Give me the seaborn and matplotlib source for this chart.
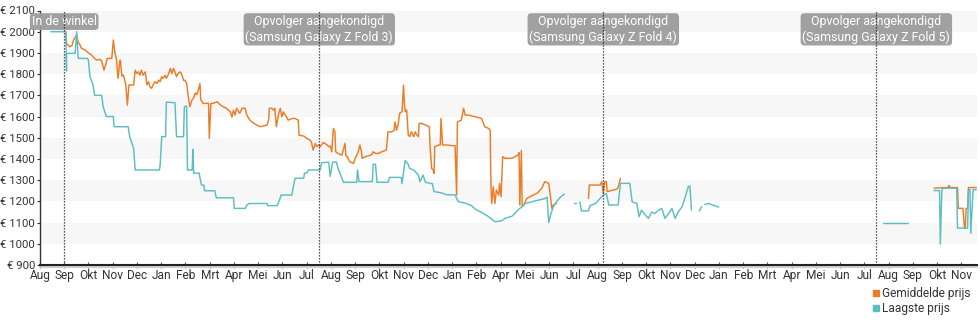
import numpy as np
import pandas as pd
import matplotlib
matplotlib.use("Agg")
import matplotlib.pyplot as plt
import matplotlib.transforms as mtransforms
from matplotlib.lines import Line2D
import seaborn as sns

# Price history of the Samsung Galaxy Z Fold 2 (days since start date, price in euro).
# A NaN price marks a gap where no price was recorded.
start = pd.Timestamp("2020-08-18")

dagen_laagste = [
    14, 33, 34, 34, 45, 47, 49, 61, 62, 64, 68, 70, 79, 81, 85, 94, 95, 113, 115, 120,
    122, 153, 154, 156, 161, 162, 173, 175, 184, 185, 188, 189, 195, 196, 197, 204, 205,
    207, 210, 211, 224, 226, 248, 249, 263, 265, 268, 291, 292, 304, 307, 309, 323, 324,
    327, 338, 339, 342, 344, 359, 361, 370, 372, 375, 380, 382, 389, 406, 407, 409, 426,
    427, 430, 432, 446, 448, 463, 464, 468, 472, 474, 479, 485, 487, 491, 494, 503, 505,
    515, 521, 532, 536, 545, 553, 558, 566, 575, 583, 592, 596, 605, 609, 613, 622, 630,
    639, 647, 650, 652, 655, 658, 662, 667, 672, 677, 684, 687, 689, 692, 694, 703, 705,
    712, 718, 722, 726, 729, 741, 744, 756, 759, 765, 768, 771, 776, 780, 784, 788, 793,
    797, 801, 806, 810, 814, 818, 823, 827, 831, 833, 835, 840, 845, 848, 850, 852, 857,
    870, 975, 1080, 1112, 1128, 1146, 1153, 1154, 1156, 1157, 1175, 1176, 1189, 1190,
    1192, 1193, 1196, 1200,
]
prijs_laagste = [
    2000, 2000, 1815, 1898, 1898, 2000, 1874, 1874, 1866, 1788, 1749, 1700, 1700, 1646,
    1600, 1600, 1552, 1552, 1505, 1450, 1348, 1348, 1371, 1505, 1505, 1668, 1665, 1505,
    1505, 1646, 1650, 1348, 1348, 1445, 1333, 1333, 1313, 1277, 1277, 1250, 1250, 1217,
    1217, 1167, 1167, 1182, 1190, 1190, 1180, 1180, 1206, 1230, 1230, 1257, 1309, 1309,
    1333, 1333, 1348, 1348, 1382, 1385, 1318, 1385, 1385, 1356, 1290, 1290, 1348, 1293,
    1293, 1375, 1375, 1290, 1290, 1313, 1313, 1283, 1392, 1375, 1355, 1348, 1324, 1293,
    1324, 1290, 1283, 1246, 1240, 1231, 1231, 1199, 1192, 1180, 1163, 1148, 1128, 1104,
    1108, 1120, 1130, 1145, 1160, 1190, 1198, 1206, 1213, 1220, 1100, 1143, 1175, 1198,
    1220, 1234, np.nan, 1190, 1190, np.nan, 1198, 1155, 1155, 1180, 1190, 1214, 1230,
    1237, 1183, 1183, 1285, 1285, 1198, 1190, 1128, 1159, 1135, 1120, 1150, 1143, 1159,
    1167, 1120, 1143, 1167, 1120, 1150, 1175, 1220, 1270, 1273, 1159, np.nan, 1155, 1175,
    np.nan, 1185, 1190, 1173, np.nan, 1100, 1100, np.nan, 1251, 1251, 998, 1255, 1262,
    1262, 1074, 1074, 1251, 1255, 1050, 1255, 1255,
]

dagen_gemiddeld = [
    33, 34, 38, 41, 43, 47, 49, 51, 53, 58, 62, 66, 70, 73, 77, 79, 82, 85, 86, 92,
    94, 96, 98, 100, 102, 103, 105, 107, 110, 112, 114, 120, 122, 124, 126, 128, 130, 132,
    135, 137, 139, 141, 143, 145, 147, 150, 152, 154, 156, 158, 160, 162, 165, 167, 169,
    171, 173, 175, 177, 180, 182, 184, 186, 188, 190, 192, 195, 197, 199, 201, 203, 205,
    206, 209, 216, 217, 219, 222, 227, 231, 235, 239, 244, 246, 248, 250, 252, 256, 259,
    263, 265, 269, 274, 278, 282, 286, 291, 293, 294, 297, 299, 301, 303, 306, 308, 310,
    312, 314, 316, 318, 323, 327, 331, 332, 338, 342, 346, 348, 350, 353, 355, 357, 359,
    363, 365, 368, 370, 372, 374, 376, 378, 379, 382, 387, 391, 392, 395, 397, 402, 404,
    408, 410, 412, 413, 417, 425, 427, 430, 434, 438, 444, 446, 451, 454, 455, 457, 459,
    461, 464, 466, 467, 468, 470, 472, 474, 476, 479, 481, 483, 485, 486, 489, 494, 499,
    500, 502, 504, 505, 506, 511, 513, 514, 516, 519, 532, 534, 535, 540, 543, 545, 549,
    558, 566, 570, 575, 577, 578, 579, 581, 583, 585, 588, 589, 591, 593, 596, 605, 609,
    613, 614, 615, 617, 618, 620, 624, 628, 637, 643, 647, 652, 654, 656, 658, 662, 680,
    703, 704, 718, 720, 722, 724, 726, 727, 731, 739, 741, 744, 846, 1146, 1157, 1164,
    1165, 1167, 1176, 1177, 1183, 1185, 1186, 1187, 1189, 1190, 1200,
]
prijs_gemiddeld = [
    2000, 1945, 1929, 1935, 1961, 1984, 1950, 1940, 1922, 1914, 1900, 1890, 1874,
    1866, 1870, 1862, 1819, 1855, 1874, 1874, 1961, 1900, 1870, 1780, 1850, 1866, 1790,
    1795, 1749, 1654, 1749, 1749, 1819, 1803, 1811, 1795, 1819, 1795, 1811, 1749, 1764,
    1740, 1733, 1749, 1764, 1756, 1772, 1764, 1788, 1780, 1795, 1780, 1803, 1827, 1803,
    1827, 1811, 1788, 1803, 1811, 1795, 1771, 1771, 1756, 1696, 1646, 1680, 1688, 1711,
    1703, 1725, 1756, 1680, 1662, 1662, 1497, 1662, 1662, 1670, 1655, 1646, 1639, 1622,
    1598, 1630, 1607, 1639, 1615, 1639, 1639, 1607, 1583, 1568, 1560, 1552, 1555, 1560,
    1583, 1639, 1639, 1631, 1639, 1552, 1615, 1639, 1599, 1622, 1607, 1599, 1583, 1591,
    1591, 1583, 1512, 1508, 1497, 1490, 1478, 1442, 1473, 1458, 1466, 1458, 1477, 1474,
    1466, 1458, 1461, 1434, 1544, 1528, 1434, 1426, 1418, 1474, 1418, 1403, 1387, 1379,
    1403, 1434, 1466, 1434, 1403, 1411, 1419, 1434, 1426, 1426, 1434, 1442, 1528, 1528,
    1536, 1575, 1536, 1560, 1615, 1623, 1748, 1662, 1623, 1631, 1513, 1505, 1528, 1505,
    1528, 1513, 1505, 1568, 1568, 1560, 1552, 1458, 1356, 1348, 1332, 1458, 1466, 1466,
    1591, 1466, 1466, 1462, 1230, 1575, 1583, 1639, 1607, 1607, 1599, 1591, 1552, 1544,
    1536, 1269, 1190, 1269, 1190, 1253, 1230, 1285, 1222, 1411, 1403, 1403, 1411, 1419,
    1430, 1183, 1440, 1175, 1183, 1214, 1222, 1238, 1261, 1293, 1285, 1230, 1167, 1183,
    1190, np.nan, 1214, 1277, 1277, 1293, 1238, 1293, 1293, 1246, 1250, 1257, 1265, 1309,
    np.nan, 1262, 1265, 1265, 1275, 1265, 1265, 1167, 1167, 1074, 1074, 1167, 1167, 1265,
    1265,
]

gebeurtenis_datum = ["2020-09-18", "2021-08-11", "2022-08-10", "2023-07-26"]
gebeurtenis_tekst = [
    "In de winkel",
    "Opvolger aangekondigd\n(Samsung Galaxy Z Fold 3)",
    "Opvolger aangekondigd\n(Samsung Galaxy Z Fold 4)",
    "Opvolger aangekondigd\n(Samsung Galaxy Z Fold 5)",
]

maand_labels = [
    "Aug", "Sep", "Okt", "Nov", "Dec", "Jan", "Feb", "Mrt", "Apr", "Mei", "Jun", "Jul",
    "Aug", "Sep", "Okt", "Nov", "Dec", "Jan", "Feb", "Apr", "Mei", "Jun", "Jul",
    "Aug", "Sep", "Okt", "Nov", "Dec", "Jan", "Feb", "Mrt", "Apr", "Mei", "Jun", "Jul",
    "Aug", "Sep", "Okt", "Nov",
]
y_ticks = list(range(900, 2101, 100))

kleur_gemiddeld = "#ec7c26"
kleur_laagste = "#5bbec3"
tekstkleur = "#333333"


def naar_frame(dagen, prijzen):
    df = pd.DataFrame({"dag": dagen, "prijs": prijzen})
    df["deel"] = df["prijs"].isna().cumsum()
    df = df.dropna().copy()
    df["datum"] = start + pd.to_timedelta(df["dag"], unit="D")
    return df


sns.set_theme(style="white")
plt.rcParams["font.family"] = ["Roboto", "DejaVu Sans"]

fig = plt.figure(figsize=(9.8, 3.25), dpi=100)
ax = fig.add_axes([40 / 980, 60 / 325, 937 / 980, 254.5 / 325])

# alternating horizontal bands
for lo in range(1000, 2100, 200):
    ax.axhspan(lo, lo + 100, color="#f7f7f7", zorder=0, lw=0)

df_gem = naar_frame(dagen_gemiddeld, prijs_gemiddeld)
df_laag = naar_frame(dagen_laagste, prijs_laagste)

sns.lineplot(data=df_gem, x="datum", y="prijs", units="deel", estimator=None,
             sort=False, color=kleur_gemiddeld, lw=1.05, ax=ax, zorder=3)
sns.lineplot(data=df_laag, x="datum", y="prijs", units="deel", estimator=None,
             sort=False, color=kleur_laagste, lw=1.05, ax=ax, zorder=4)

einde = start + pd.Timedelta(days=1201)
ax.set_xlim(start, einde)
ax.set_ylim(900, 2100)

# evenly spaced month ticks
stap = 31.08
tick_data = [start + pd.Timedelta(days=i * stap) for i in range(len(maand_labels))]
ax.set_xticks(tick_data)
ax.set_xticklabels(maand_labels)
ax.set_yticks(y_ticks)
ax.set_yticklabels([f"€ {v}" for v in y_ticks])
ax.set_xlabel("")
ax.set_ylabel("")

ax.tick_params(axis="y", direction="out", length=2.5, width=0.8, color="#333333",
               labelcolor=tekstkleur, labelsize=8.2, pad=1.0, left=True)
ax.tick_params(axis="x", direction="inout", length=5, width=0.8, color="#555555",
               labelcolor=tekstkleur, labelsize=8.6, pad=0.5, bottom=True)

for s in ["top", "right"]:
    ax.spines[s].set_visible(False)
ax.spines["left"].set_color("#333333")
ax.spines["left"].set_linewidth(1.0)
ax.spines["bottom"].set_color("#222222")
ax.spines["bottom"].set_linewidth(1.5)
ax.add_line(Line2D([0, 1], [-0.009, -0.009], transform=ax.transAxes, color="#d0d0d0",
                   lw=1.6, clip_on=False, zorder=1))

# event markers with labels
trans = mtransforms.blended_transform_factory(ax.transData, ax.transAxes)
for datum, tekst in zip(gebeurtenis_datum, gebeurtenis_tekst):
    d = pd.Timestamp(datum)
    ax.axvline(d, color="#222222", lw=0.9, ls=(0, (1, 1.4)), zorder=6)
    ax.text(d, 0.982, tekst, transform=trans, ha="center", va="top", color="white",
            fontsize=8.9, linespacing=1.2, zorder=5,
            bbox=dict(boxstyle="round,pad=0.15,rounding_size=0.3", fc="#9c9c9c",
                      ec="none", alpha=0.95))

handles = [
    Line2D([], [], marker="s", ls="", color=kleur_gemiddeld, markersize=4.2),
    Line2D([], [], marker="s", ls="", color=kleur_laagste, markersize=4.2),
]
fig.legend(handles, ["Gemiddelde prijs", "Laagste prijs"], loc="lower right",
           bbox_to_anchor=(0.999, 0.005), frameon=False, fontsize=8.6,
           handlelength=0.6, handletextpad=0.25, labelspacing=0.15,
           labelcolor=tekstkleur, borderpad=0.2)

fig.savefig("out.png", dpi=100)
